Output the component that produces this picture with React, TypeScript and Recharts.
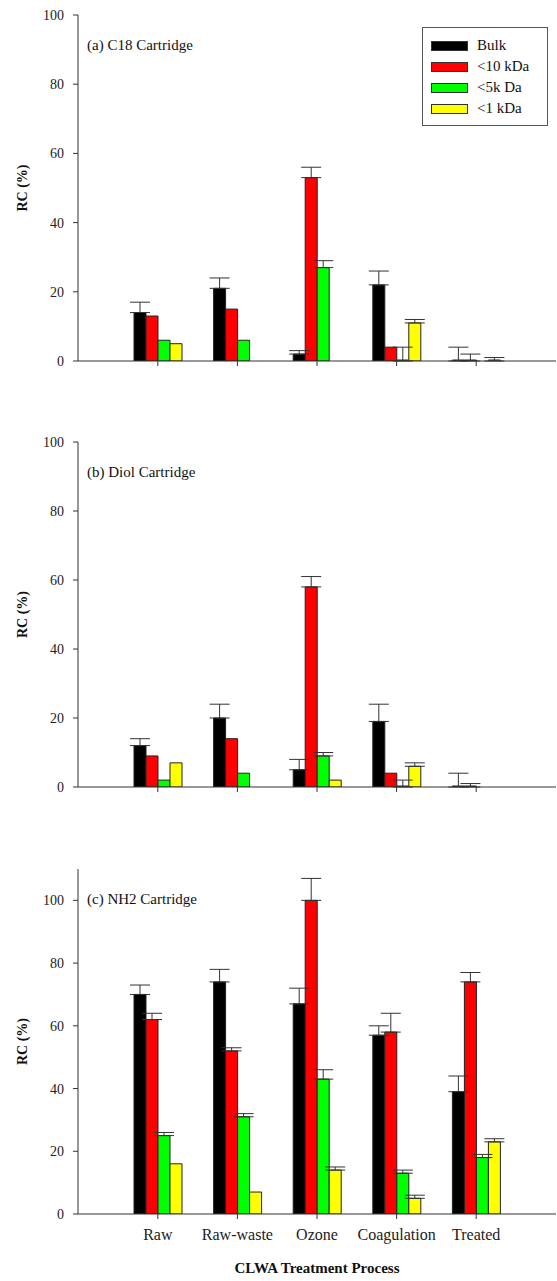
import { BarChart, Bar, XAxis, YAxis, ErrorBar, Legend } from 'recharts';

const processes = ['Raw', 'Raw-waste', 'Ozone', 'Coagulation', 'Treated'];
const seriesNames = ['Bulk', '<10 kDa', '<5k Da', '<1 kDa'];
const seriesColors = ['#000000', '#ff0000', '#00ff00', '#ffff00'];
const rcTicks = [0, 20, 40, 60, 80, 100];

// (a) C18 cartridge: mean RC and upper error (0 = no error bar)
const c18Bulk = [14, 21, 2, 22, 0];
const c18BulkErr = [3, 3, 1, 4, 4];
const c18Kda10 = [13, 15, 53, 4, 0];
const c18Kda10Err = [0, 0, 3, 0, 2];
const c18Kda5 = [6, 6, 27, 0, 0];
const c18Kda5Err = [0, 0, 2, 4, 0];
const c18Kda1 = [5, 0, 0, 11, 0];
const c18Kda1Err = [0, 0, 0, 1, 1];

// (b) Diol cartridge
const diolBulk = [12, 20, 5, 19, 0];
const diolBulkErr = [2, 4, 3, 5, 4];
const diolKda10 = [9, 14, 58, 4, 0];
const diolKda10Err = [0, 0, 3, 0, 1];
const diolKda5 = [2, 4, 9, 0, 0];
const diolKda5Err = [0, 0, 1, 2, 0];
const diolKda1 = [7, 0, 2, 6, 0];
const diolKda1Err = [0, 0, 0, 1, 0];

// (c) NH2 cartridge
const nh2Bulk = [70, 74, 67, 57, 39];
const nh2BulkErr = [3, 4, 5, 3, 5];
const nh2Kda10 = [62, 52, 100, 58, 74];
const nh2Kda10Err = [2, 1, 7, 6, 3];
const nh2Kda5 = [25, 31, 43, 13, 18];
const nh2Kda5Err = [1, 1, 3, 1, 1];
const nh2Kda1 = [16, 7, 14, 5, 23];
const nh2Kda1Err = [0, 0, 1, 1, 1];

const FONT = '"Liberation Serif", "Times New Roman", serif';
const AXIS = '#333';

function buildRows(values: number[][], errors: number[][]) {
  return processes.map((process, i) => {
    const row: Record<string, any> = { process };
    values.forEach((v, s) => {
      row[`s${s}`] = v[i];
      row[`e${s}`] = errors[s][i] > 0 ? [0, errors[s][i]] : null;
    });
    return row;
  });
}

const c18Rows = buildRows(
  [c18Bulk, c18Kda10, c18Kda5, c18Kda1],
  [c18BulkErr, c18Kda10Err, c18Kda5Err, c18Kda1Err]
);
const diolRows = buildRows(
  [diolBulk, diolKda10, diolKda5, diolKda1],
  [diolBulkErr, diolKda10Err, diolKda5Err, diolKda1Err]
);
const nh2Rows = buildRows(
  [nh2Bulk, nh2Kda10, nh2Kda5, nh2Kda1],
  [nh2BulkErr, nh2Kda10Err, nh2Kda5Err, nh2Kda1Err]
);

// legend box, kept in series order
const renderLegend = () => (
  <div
    style={{
      boxSizing: 'border-box',
      width: 126,
      height: 99,
      border: '1.5px solid #555',
      background: '#fff',
      padding: '7px 0 0 8px',
      fontFamily: FONT,
      fontSize: 15,
      color: '#111',
    }}
  >
    {seriesNames.map((name, s) => (
      <div key={name} style={{ display: 'flex', alignItems: 'center', height: 21 }}>
        <span
          style={{
            display: 'inline-block',
            boxSizing: 'border-box',
            width: 37,
            height: 10,
            background: seriesColors[s],
            border: '1px solid #333',
            marginRight: 9,
          }}
        />
        <span>{name}</span>
      </div>
    ))}
  </div>
);

interface PanelProps {
  title: string;
  top: number;
  height: number;
  xAxisHeight: number;
  yMax: number;
  rows: Record<string, any>[];
  showLegend?: boolean;
  showCategories?: boolean;
}

function CartridgePanel({ title, top, height, xAxisHeight, yMax, rows, showLegend, showCategories }: PanelProps) {
  return (
    <div style={{ position: 'absolute', left: 0, top, width: 557, height }}>
      <BarChart
        width={557}
        height={height}
        data={rows}
        margin={{ top: 15, right: 1, left: 0, bottom: 0 }}
        barGap={0}
        barSize={12}
      >
        <XAxis
          dataKey="process"
          height={xAxisHeight}
          padding={{ left: 40, right: 40 }}
          stroke={AXIS}
          tickSize={5}
          tickMargin={10}
          tick={{ fill: '#222', fontSize: 16, fontFamily: FONT }}
          tickFormatter={(v: string) => (showCategories ? v : '')}
          label={
            showCategories
              ? {
                  value: 'CLWA Treatment Process',
                  position: 'insideBottom',
                  offset: 8,
                  style: { fill: '#111', fontSize: 15, fontWeight: 'bold', fontFamily: FONT },
                }
              : undefined
          }
        />
        <XAxis
          xAxisId="frame"
          orientation="top"
          dataKey="process"
          height={0}
          tick={false}
          tickLine={false}
          stroke="#555"
        />
        <YAxis
          width={78}
          domain={[0, yMax]}
          ticks={rcTicks}
          allowDataOverflow
          stroke={AXIS}
          tickSize={5}
          tickMargin={9}
          tick={{ fill: '#222', fontSize: 14, fontFamily: FONT }}
          label={{
            value: 'RC (%)',
            angle: -90,
            position: 'insideLeft',
            offset: 22,
            style: { textAnchor: 'middle', fill: '#111', fontSize: 14, fontWeight: 'bold', fontFamily: FONT },
          }}
        />
        <YAxis
          yAxisId="frame"
          orientation="right"
          width={0}
          domain={[0, yMax]}
          tick={false}
          tickLine={false}
          stroke="#555"
        />
        {showLegend && (
          <Legend
            layout="horizontal"
            verticalAlign="middle"
            align="center"
            content={renderLegend}
            wrapperStyle={{ position: 'absolute', left: 422, top: 27, width: 126, height: 99 }}
          />
        )}
        {seriesNames.map((name, s) => (
          <Bar
            key={name}
            dataKey={`s${s}`}
            name={name}
            fill={seriesColors[s]}
            stroke="#222"
            strokeWidth={1}
            // zero-height bars only need a rect when they carry an error bar
            minPointSize={(_v: unknown, i: number) => (rows[i][`e${s}`] ? 1 : 0)}
            isAnimationActive={false}
          >
            <ErrorBar dataKey={`e${s}`} width={10} stroke="#333" strokeWidth={1} direction="y" />
          </Bar>
        ))}
      </BarChart>
      <div
        style={{
          position: 'absolute',
          left: 87,
          top: 36,
          fontFamily: FONT,
          fontSize: 15,
          lineHeight: '18px',
          color: '#111',
          whiteSpace: 'nowrap',
        }}
      >
        {title}
      </div>
    </div>
  );
}

export default function App() {
  return (
    <div style={{ position: 'absolute', left: 0, top: 0, width: 557, height: 1281, background: '#fff' }}>
      <CartridgePanel title="(a) C18 Cartridge" top={0} height={400} xAxisHeight={39} yMax={100} rows={c18Rows} showLegend />
      <CartridgePanel title="(b) Diol Cartridge" top={427} height={400} xAxisHeight={40} yMax={100} rows={diolRows} />
      <CartridgePanel
        title="(c) NH2 Cartridge"
        top={854}
        height={427}
        xAxisHeight={67}
        yMax={110}
        rows={nh2Rows}
        showCategories
      />
    </div>
  );
}
